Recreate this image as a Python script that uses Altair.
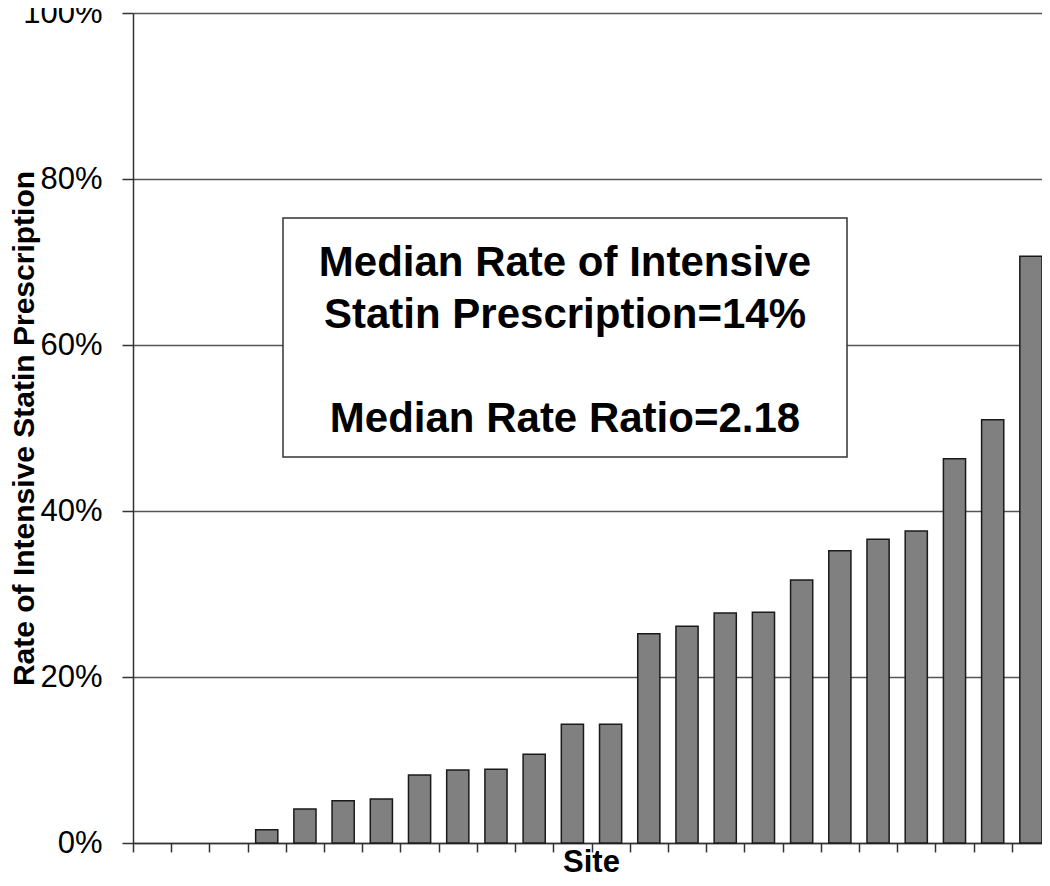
import altair as alt
import pandas as pd

# ---- data ----
sites = [str(i) for i in range(1, 25)]
rates = [0, 0, 0, 1.6, 4.1, 5.1, 5.3, 8.2, 8.8, 8.9, 10.7, 14.3, 14.3,
         25.2, 26.1, 27.7, 27.8, 31.7, 35.2, 36.6, 37.6, 46.3, 51.0, 70.7]
y_ticks = [0, 20, 40, 60, 80, 100]
note_top = ["Median Rate of Intensive", "Statin Prescription=14%"]
note_bottom = "Median Rate Ratio=2.18"

FONT = "Liberation Sans"

df = pd.DataFrame({"site": sites, "rate": rates})
one = pd.DataFrame({"k": [0]})

bars = alt.Chart(df).transform_filter("datum.rate > 0").mark_bar(
    color="#808080", stroke="#1a1a1a", strokeWidth=1.5,
    width=alt.RelativeBandSize(0.58)
).encode(
    x=alt.X("site:N", sort=sites,
            scale=alt.Scale(domain=sites, paddingInner=0, paddingOuter=0),
            axis=alt.Axis(title="Site", labels=False, tickBand="extent",
                          tickSize=9, tickColor="#333", tickWidth=1.5,
                          domainColor="#333", domainWidth=1.5, grid=False,
                          titleFont=FONT, titleFontSize=31, titleFontWeight="bold",
                          titleColor="black", titleBaseline="alphabetic",
                          titleX=458, titleY=28)),
    y=alt.Y("rate:Q", scale=alt.Scale(domain=[0, 100], nice=False),
            axis=alt.Axis(title="Rate of Intensive Statin Prescription",
                          values=y_ticks, labelExpr="datum.value + '%'",
                          labelFont=FONT, labelFontSize=31, labelColor="black",
                          labelPadding=20, tickSize=11, tickColor="#333", tickWidth=1.5,
                          domainColor="#333", domainWidth=1.5,
                          grid=True, gridColor="#555", gridWidth=1.4,
                          titleFont=FONT, titleFontSize=30, titleFontWeight="bold",
                          titleColor="black", titleAngle=270, titleBaseline="alphabetic",
                          titleX=-100, titleY=415, titleAlign="center"))
)

box = alt.Chart(one).mark_rect(fill="white", stroke="#333", strokeWidth=1.5).encode(
    x=alt.value(150), x2=alt.value(714), y=alt.value(205), y2=alt.value(444)
)

note_style = dict(font=FONT, fontWeight="bold", fontSize=42, lineHeight=52,
                  align="center", baseline="alphabetic", color="black")

note1 = alt.Chart(one).mark_text(lineBreak="\n", **note_style).encode(
    x=alt.value(432), y=alt.value(263), text=alt.value("\n".join(note_top))
)
note2 = alt.Chart(one).mark_text(**note_style).encode(
    x=alt.value(432), y=alt.value(419), text=alt.value(note_bottom)
)

chart = alt.layer(bars, box, note1, note2).properties(
    width=917, height=830,
    autosize=alt.AutoSizeParams(type="none"),
    padding={"left": 125, "top": 5, "right": -8, "bottom": 35},
    background="white"
).configure_view(stroke=None)

chart.save("out.html", embed_options={"renderer": "svg", "actions": False})
